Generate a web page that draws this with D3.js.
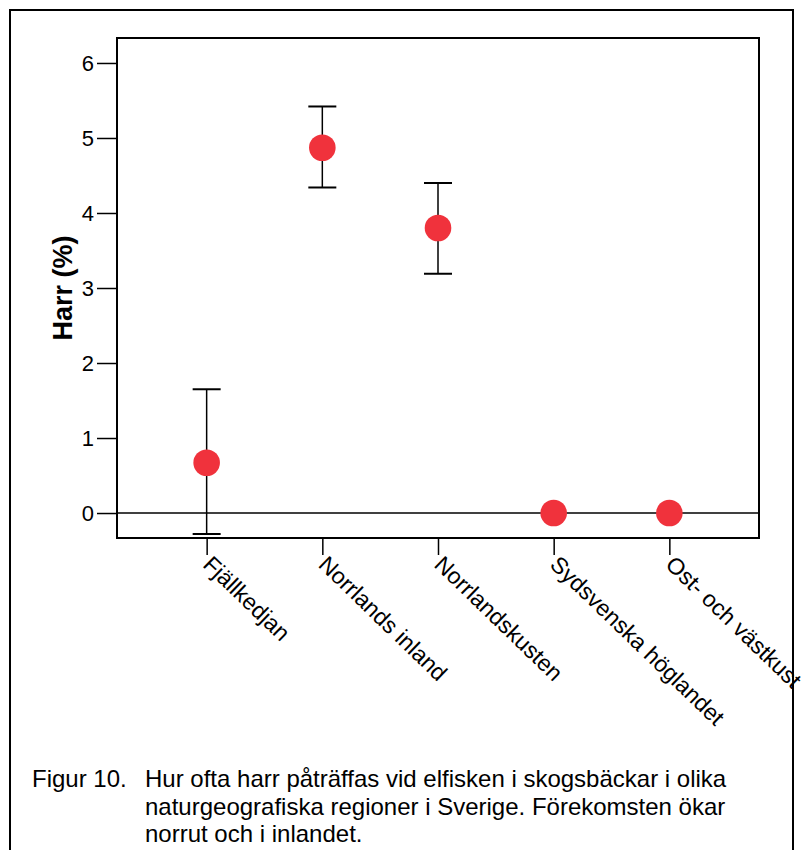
<!DOCTYPE html>
<html><head><meta charset="utf-8">
<script src="https://cdn.jsdelivr.net/npm/d3@7"></script>
<style>body{margin:0;background:#fff}svg{display:block}text{font-family:"Liberation Sans",Arial,Helvetica,sans-serif}</style>
</head><body>
<script>
const categories = ["Fjällkedjan","Norrlands inland","Norrlandskusten","Sydsvenska höglandet","Ost- och västkust"];
const means = [0.67, 4.87, 3.80, 0, 0];
const lower = [-0.28, 4.34, 3.19, null, null];
const upper = [1.65, 5.42, 4.40, null, null];
const yTicks = [0,1,2,3,4,5,6];
const yLabel = "Harr (%)";
const captionLabel = "Figur 10.";
const captionLines = ["Hur ofta harr påträffas vid elfisken i skogsbäckar i olika","naturgeografiska regioner i Sverige. Förekomsten ökar","norrut och i inlandet."];

const W=802,H=850;
const svg=d3.select("body").append("svg").attr("width",W).attr("height",H);
const L=117,R=759,T=38,B=538;
const x=d3.scalePoint().domain(categories).range([L,R]).padding(0.775);
const y=d3.scaleLinear().domain([-0.333,6.333]).range([B,T]);

// y axis ticks
const ya=svg.append("g").attr("transform",`translate(${L},0)`)
  .call(d3.axisLeft(y).tickValues(yTicks).tickFormat(d3.format("d")).tickSize(20).tickSizeOuter(0).tickPadding(3));
ya.select(".domain").remove();
ya.selectAll(".tick line").attr("stroke","#000").attr("stroke-width",1.5);
ya.selectAll(".tick text").attr("font-size",22).attr("fill","#000");

// x axis ticks
const xa=svg.append("g").attr("transform",`translate(0,${B})`)
  .call(d3.axisBottom(x).tickSize(17).tickSizeOuter(0));
xa.select(".domain").remove();
xa.selectAll(".tick line").attr("stroke","#000").attr("stroke-width",1.5);
xa.selectAll(".tick text").remove();
svg.append("g").selectAll("text").data(categories).join("text")
  .attr("transform",d=>`translate(${x(d)-5},566) rotate(44)`)
  .attr("font-size",23).attr("fill","#000").text(d=>d);

// plot box
svg.append("rect").attr("x",L).attr("y",T).attr("width",R-L).attr("height",B-T)
  .attr("fill","none").attr("stroke","#000").attr("stroke-width",2);
// zero line
svg.append("line").attr("x1",L).attr("x2",R).attr("y1",y(0)).attr("y2",y(0)).attr("stroke","#000").attr("stroke-width",1.5);

// error bars
const eb=svg.append("g");
categories.forEach((c,i)=>{
  if(lower[i]==null) return;
  const cx=x(c);
  eb.append("line").attr("x1",cx).attr("x2",cx).attr("y1",y(lower[i])).attr("y2",y(upper[i])).attr("stroke","#000").attr("stroke-width",1.5);
  [lower[i],upper[i]].forEach(v=>eb.append("line").attr("x1",cx-14).attr("x2",cx+14).attr("y1",y(v)).attr("y2",y(v)).attr("stroke","#000").attr("stroke-width",2));
});
svg.append("g").selectAll("circle").data(categories).join("circle")
  .attr("cx",d=>x(d)).attr("cy",(d,i)=>y(means[i])).attr("r",13.3).attr("fill","#f0323c");

// y label
svg.append("text").attr("transform","translate(72,288) rotate(-90)").attr("text-anchor","middle")
  .attr("font-size",27).attr("font-weight","bold").attr("fill","#000").text(yLabel);

// caption
svg.append("text").attr("x",32).attr("y",787).attr("font-size",24).attr("fill","#000").text(captionLabel);
captionLines.forEach((t,i)=>svg.append("text").attr("x",145).attr("y",787+27.5*i).attr("font-size",24).attr("fill","#000").text(t));

// outer frame
svg.append("rect").attr("x",10).attr("y",10).attr("width",783).attr("height",860)
  .attr("fill","none").attr("stroke","#000").attr("stroke-width",2);
</script>
</body></html>
